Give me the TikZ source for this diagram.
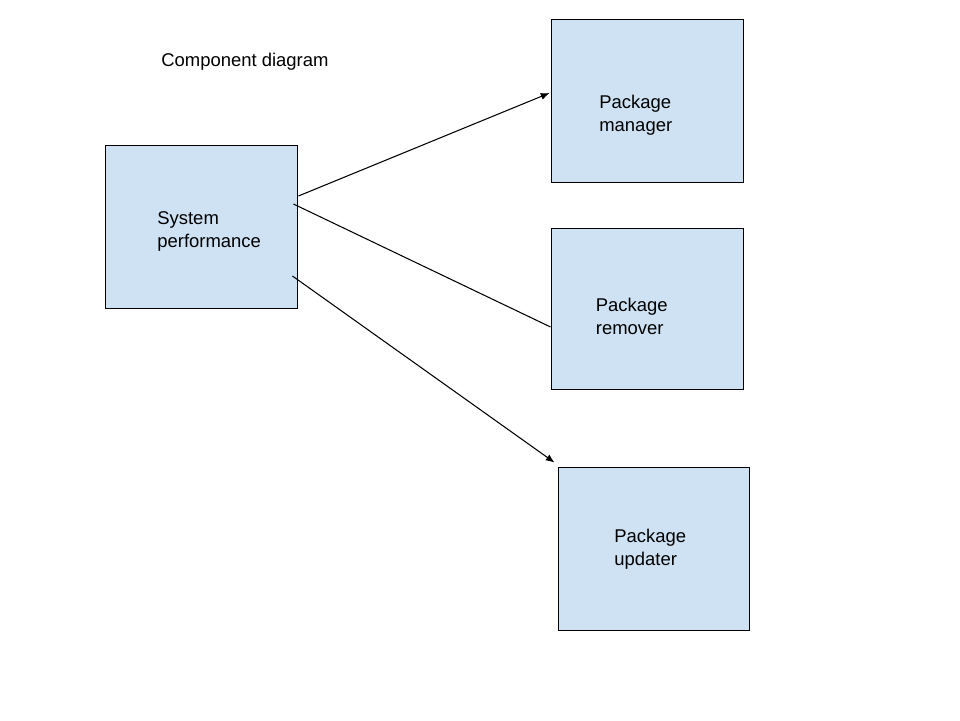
\documentclass[tikz,border=0pt]{standalone}
\usepackage{fontspec}
\setmainfont{Liberation Sans}
\usepackage{xcolor}
\usetikzlibrary{arrows.meta}
\definecolor{boxblue}{HTML}{CFE2F3}
\begin{document}
\begin{tikzpicture}
[comp/.style={rectangle,draw,fill=boxblue,line width=0.5pt,inner sep=0pt,minimum width=3.84cm,minimum height=3.26cm},
 txt/.style={anchor=west,align=left,inner sep=0pt,font=\fontsize{10.5}{13}\selectfont},
 link/.style={line width=0.6pt},
 arr/.style={link,-{Latex[length=5pt,width=4pt]}}]
\useasboundingbox (0,0) rectangle (19.2,-14.4);
\node[txt] (title) at (3.22,-1.23) {Component diagram};
%
\node[comp] (sys) at ( 4.02, -4.53) {};
\node[comp] (mgr) at (12.94, -2.01) {};
\node[comp,minimum height=3.22cm] (rem) at (12.94, -6.17) {};
\node[comp,minimum width=3.82cm] (upd) at (13.07,-10.97) {};
\node[txt] (systxt) at ( 3.14, -4.63) {System\\performance};
\node[txt] (mgrtxt) at (11.98, -2.30) {Package\\manager};
\node[txt] (remtxt) at (11.91, -6.33) {Package\\remover};
\node[txt] (updtxt) at (12.28,-10.98) {Package\\updater};
%
\path ([xshift=0.02cm,yshift=0.61cm]sys.east) edge[arr] ([xshift=-0.02cm,yshift=0.15cm]mgr.west)
      ([xshift=-0.08cm,yshift=0.45cm]sys.east) edge[link] ([yshift=-0.37cm]rem.west)
      ([xshift=-0.1cm,yshift=-0.99cm]sys.east) edge[arr] ([xshift=-0.06cm,yshift=0.08cm]upd.north west);
\end{tikzpicture}
\end{document}
